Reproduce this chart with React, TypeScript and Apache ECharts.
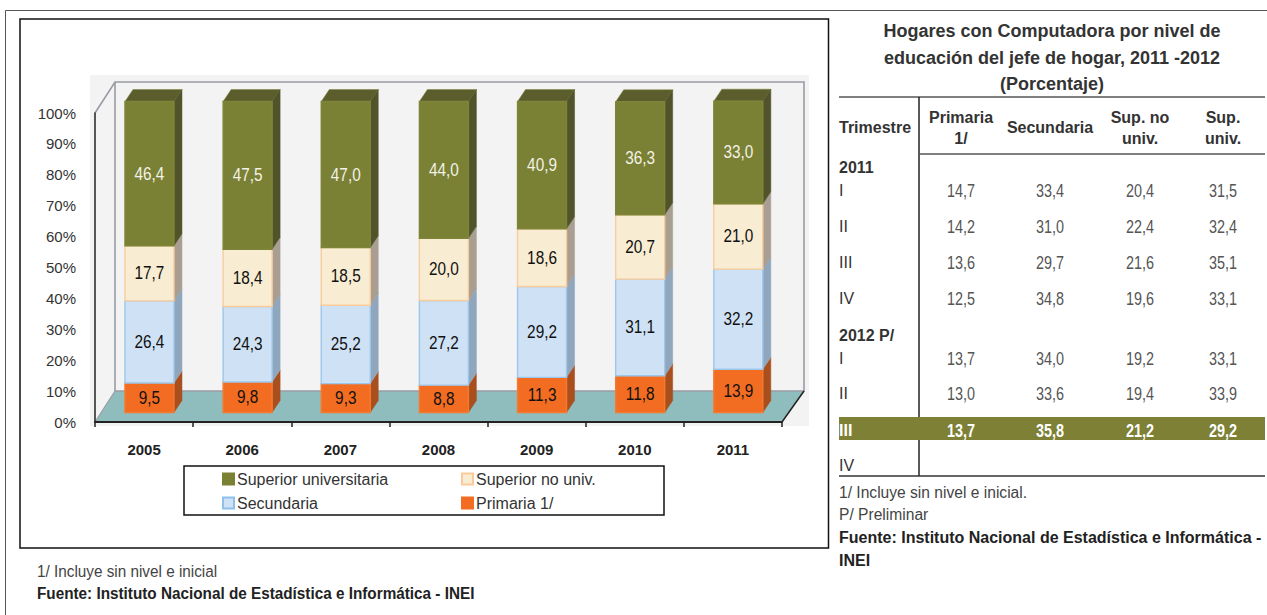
import React, { useEffect, useRef } from "react";
import * as echarts from "echarts";

const years = ["2005", "2006", "2007", "2008", "2009", "2010", "2011"];
const primaria = [9.5, 9.8, 9.3, 8.8, 11.3, 11.8, 13.9];
const secundaria = [26.4, 24.3, 25.2, 27.2, 29.2, 31.1, 32.2];
const supNoUniv = [17.7, 18.4, 18.5, 20.0, 18.6, 20.7, 21.0];
const supUniv = [46.4, 47.5, 47.0, 44.0, 40.9, 36.3, 33.0];

const yTicks = [0, 10, 20, 30, 40, 50, 60, 70, 80, 90, 100];

const tableTitle = ["Hogares con Computadora por nivel de", "educación del jefe de hogar, 2011 -2012", "(Porcentaje)"];
const rowLabels = ["I", "II", "III", "IV", "I", "II", "III", "IV"];
const rowPrimaria = ["14,7", "14,2", "13,6", "12,5", "13,7", "13,0", "13,7", ""];
const rowSecundaria = ["33,4", "31,0", "29,7", "34,8", "34,0", "33,6", "35,8", ""];
const rowSupNo = ["20,4", "22,4", "21,6", "19,6", "19,2", "19,4", "21,2", ""];
const rowSup = ["31,5", "32,4", "35,1", "33,1", "33,1", "33,9", "29,2", ""];
const rowY = [190, 226, 262, 298, 358, 393, 430, 465];
const colX = [961, 1050, 1140, 1223];

const FONT = "'Liberation Sans', Arial, sans-serif";
const DX = 8;
const DY = 12;
const BAR_W = 49;
const SHIFT_X = 5.4;
const BASE_DY = -9.5;
const BAR_SCALE = 311 / 309;

function fmt(v: number) {
  return v.toFixed(1).replace(".", ",");
}

function makeSeries(
  name: string,
  values: number[],
  below: number[][],
  colors: { front: string; side: string; top: string; border: string; text: string; legend: string; legendBorder: string },
  isTop: boolean
) {
  const data = values.map((v, i) => {
    const start = below.reduce((s, arr) => s + arr[i], 0);
    return [i, start, start + v, v];
  });
  return {
    type: "custom",
    name,
    coordinateSystem: "cartesian2d",
    itemStyle: { color: colors.legend, borderColor: colors.legendBorder, borderWidth: 2 },
    encode: { x: 0, y: [1, 2] },
    data,
    clip: false,
    z: 5,
    renderItem: (_p: any, api: any) => {
      const i = api.value(0);
      const c = api.coord([i, 0]);
      const y0 = c[1];
      const yA = y0 + BASE_DY - (y0 - api.coord([i, api.value(1)])[1]) * BAR_SCALE;
      const yB = y0 + BASE_DY - (y0 - api.coord([i, api.value(2)])[1]) * BAR_SCALE;
      const xL = c[0] + SHIFT_X - BAR_W / 2;
      const xR = xL + BAR_W;
      const children: any[] = [
        {
          type: "polygon",
          shape: { points: [[xR, yB], [xR + DX, yB - DY], [xR + DX, yA - DY], [xR, yA]] },
          style: { fill: colors.side, stroke: colors.side, lineWidth: 0.5 },
        },
        {
          type: "rect",
          shape: { x: xL, y: yB, width: BAR_W, height: yA - yB },
          style: { fill: colors.front, stroke: colors.border, lineWidth: 1.4 },
        },
        {
          type: "text",
          x: xL + BAR_W / 2,
          y: (yA + yB) / 2,
          scaleX: 0.83,
          style: {
            text: fmt(api.value(3)),
            x: 0,
            y: 0,
            align: "center",
            verticalAlign: "middle",
            fill: colors.text,
            font: `18.5px ${FONT}`,
          },
        },
      ];
      if (isTop) {
        children.unshift({
          type: "polygon",
          shape: { points: [[xL, yB], [xL + DX, yB - DY], [xR + DX, yB - DY], [xR, yB]] },
          style: { fill: colors.top, stroke: colors.border, lineWidth: 0.5 },
        });
      }
      return { type: "group", children };
    },
  };
}

function txt(text: string, x: number, y: number, size: number, fill: string, align = "left", weight = "normal", sx = 1) {
  return {
    type: "text",
    z: 20,
    x,
    y,
    scaleX: sx,
    style: { text, x: 0, y: 0, fill, align, verticalAlign: "middle", font: `${weight} ${size}px ${FONT}` },
  };
}

function hline(x1: number, y1: number, x2: number, y2: number, stroke: string, lineWidth: number, z = 20) {
  return { type: "line", z, shape: { x1, y1, x2, y2 }, style: { stroke, lineWidth } };
}

export default function App() {
  const ref = useRef<HTMLDivElement>(null);
  useEffect(() => {
    document.body.style.margin = "0";
    const chart = echarts.init(ref.current!, undefined, { renderer: "svg" });
    const graphics: any[] = [
      // frames
      { type: "rect", z: 0, shape: { x: 5.5, y: 10.5, width: 1300, height: 700 }, style: { fill: "none", stroke: "#555", lineWidth: 1 } },
      { type: "rect", z: 0, shape: { x: 20, y: 19, width: 808.5, height: 529 }, style: { fill: "#fff", stroke: "#111", lineWidth: 1.5 } },
      // 3D box
      { type: "rect", z: 1, shape: { x: 90, y: 75, width: 719, height: 351 }, style: { fill: "#f3f3f3" } },
      { type: "polygon", z: 1, shape: { points: [[95, 422], [115, 391], [804, 391], [782, 422]] }, style: { fill: "#8fbcbd" } },
      { type: "polyline", z: 2, shape: { points: [[95, 113], [115, 82], [804, 82], [804, 391], [115, 391], [115, 82]] }, style: { fill: "none", stroke: "#9a9ca3", lineWidth: 1.6 } },
      hline(115, 391, 95, 422, "#9a9ca3", 1.2, 2),
      hline(804, 391, 782, 422, "#222", 1.5, 2),
      // legend box
      { type: "rect", z: 3, shape: { x: 184, y: 466, width: 480, height: 49 }, style: { fill: "#fff", stroke: "#111", lineWidth: 1.5 } },
      // left notes
      txt("1/ Incluye sin nivel e inicial", 37, 571, 17, "#444", "left", "normal", 0.9),
      txt("Fuente: Instituto Nacional de Estadística e Informática - INEI", 37, 593, 17, "#222", "left", "bold", 0.9),
      // table rules
      hline(839, 97, 1265, 97, "#555", 1.5),
      hline(919, 97, 919, 476, "#222", 1.5),
      hline(919, 154, 1265, 154, "#555", 1.5),
      hline(839, 476, 1265, 476, "#333", 1.5),
      { type: "rect", z: 21, shape: { x: 839, y: 417, width: 426, height: 23 }, style: { fill: "#7d8035" } },
      txt("Trimestre", 839, 127, 16, "#333", "left", "bold"),
      txt("Primaria", colX[0], 117, 16, "#333", "center", "bold"),
      txt("1/", colX[0], 138, 16, "#333", "center", "bold"),
      txt("Secundaria", colX[1], 127, 16, "#333", "center", "bold"),
      txt("Sup. no", colX[2], 117, 16, "#333", "center", "bold"),
      txt("univ.", colX[2], 138, 16, "#333", "center", "bold"),
      txt("Sup.", colX[3], 117, 16, "#333", "center", "bold"),
      txt("univ.", colX[3], 138, 16, "#333", "center", "bold"),
      txt("2011", 839, 167, 16, "#333", "left", "bold"),
      txt("2012 P/", 839, 335, 16, "#333", "left", "bold"),
      txt("1/ Incluye sin nivel e inicial.", 839, 492, 15.6, "#444"),
      txt("P/ Preliminar", 839, 514, 15.6, "#444"),
      txt("Fuente: Instituto Nacional de Estadística e Informática -", 839, 537, 16, "#222", "left", "bold"),
      txt("INEI", 839, 560, 16, "#222", "left", "bold"),
    ];
    tableTitle.forEach((t, i) => graphics.push(txt(t, 1052, [31, 58, 84][i], 18, "#333", "center", "bold")));
    rowLabels.forEach((label, i) => {
      const hi = i === 6;
      const fill = hi ? "#fff" : "#555";
      const labelNode = { ...txt(label, 839, rowY[i], 16, hi ? "#fff" : "#333", "left", hi ? "bold" : "normal"), z: 22 };
      graphics.push(labelNode);
      [rowPrimaria, rowSecundaria, rowSupNo, rowSup].forEach((col, c) => {
        if (col[i]) graphics.push({ ...txt(col[i], colX[c], rowY[i], 18, fill, "center", hi ? "bold" : "normal", 0.8), z: 22 });
      });
    });

    const legendBase = { icon: "rect", itemWidth: 11, itemHeight: 11, itemGap: 4, z: 10, textStyle: { fontFamily: FONT, fontSize: 16, color: "#333", padding: [0, 0, 0, -2] }, padding: 0 };

    chart.setOption({
      animation: false,
      backgroundColor: "#fff",
      graphic: { elements: graphics },
      grid: { left: 95, right: 1267 - 782, top: 113, bottom: 615 - 422, containLabel: false },
      xAxis: {
        type: "category",
        data: years,
        z: 4,
        axisLine: { lineStyle: { color: "#222", width: 2 } },
        axisTick: { show: true, alignWithLabel: false, length: 5, lineStyle: { color: "#222", width: 1.5 } },
        axisLabel: { color: "#222", fontFamily: FONT, fontSize: 15, fontWeight: "bold", margin: 20 },
        splitLine: { show: false },
      },
      yAxis: {
        type: "value",
        min: 0,
        max: 100,
        interval: 10,
        z: 4,
        axisLine: { show: true, lineStyle: { color: "#222", width: 1.5 } },
        axisTick: { show: false },
        axisLabel: { color: "#333", fontFamily: FONT, fontSize: 15, margin: 19, formatter: (v: number) => (yTicks.includes(v) ? `${v}%` : "") },
        splitLine: { show: false },
      },
      legend: [
        { ...legendBase, data: ["Superior universitaria"], left: 222, top: 471 },
        { ...legendBase, data: ["Superior no univ."], left: 461, top: 471 },
        { ...legendBase, data: ["Secundaria"], left: 222, top: 495 },
        { ...legendBase, data: ["Primaria 1/"], left: 461, top: 495 },
      ],
      series: [
        makeSeries("Primaria 1/", primaria, [], { front: "#f26d21", side: "#a94f1e", top: "#f26d21", border: "#f47a30", text: "#111", legend: "#f26d21", legendBorder: "#f26d21" }, false),
        makeSeries("Secundaria", secundaria, [primaria], { front: "#cfe2f5", side: "#8fa6bc", top: "#cfe2f5", border: "#9cc7ec", text: "#111", legend: "#cfe2f5", legendBorder: "#8fc0ea" }, false),
        makeSeries("Superior no univ.", supNoUniv, [primaria, secundaria], { front: "#f8ecd2", side: "#a89f92", top: "#f8ecd2", border: "#f9cc9c", text: "#111", legend: "#f8ecd2", legendBorder: "#fbc99a" }, false),
        makeSeries("Superior universitaria", supUniv, [primaria, secundaria, supNoUniv], { front: "#7a8034", side: "#51542a", top: "#5b5e2c", border: "#7f8538", text: "#f2f2e6", legend: "#7a8034", legendBorder: "#7a8034" }, true),
      ],
    });
    return () => chart.dispose();
  }, []);
  return <div ref={ref} style={{ width: 1267, height: 615, position: "absolute", left: 0, top: 0 }} />;
}
